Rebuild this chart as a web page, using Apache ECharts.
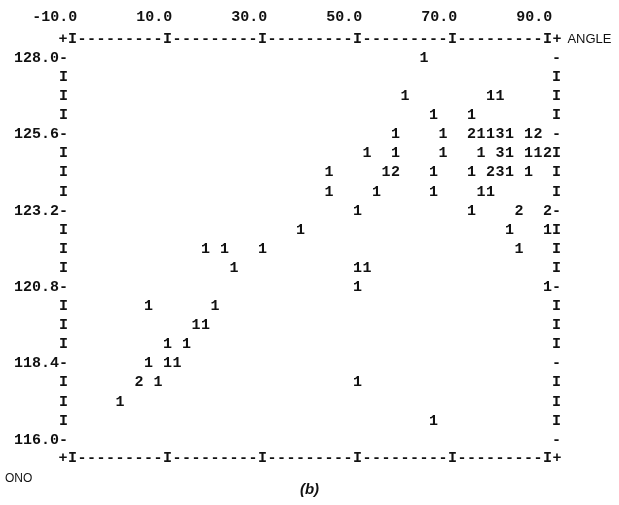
<!DOCTYPE html>
<html>
<head>
<meta charset="utf-8">
<script src="https://cdn.jsdelivr.net/npm/echarts@6.0.0/dist/echarts.min.js"></script>
<style>
  html, body { margin: 0; padding: 0; background: #fff; }
  #chart { width: 619px; height: 505px; }
</style>
</head>
<body>
<div id="chart"></div>
<script>
// printer plot: each printed digit is the number of cases in that cell
const angle = [
  64,
  60, 78, 80,
  66, 74,
  58, 68, 74, 76, 78, 80, 82, 86, 88,
  52, 58, 68, 76, 80, 82, 86, 88, 90,
  44, 56, 58, 66, 74, 78, 80, 82, 86,
  44, 54, 66, 76, 78,
  50, 74, 84, 90,
  38, 82, 90,
  18, 22, 30, 84,
  24, 50, 52,
  50, 90,
  6, 20,
  16, 18,
  10, 14,
  6, 10, 12,
  4, 8, 50,
  0,
  66
];
const ono = [
  128.0,
  126.8, 126.8, 126.8,
  126.2, 126.2,
  125.6, 125.6, 125.6, 125.6, 125.6, 125.6, 125.6, 125.6, 125.6,
  125.0, 125.0, 125.0, 125.0, 125.0, 125.0, 125.0, 125.0, 125.0,
  124.4, 124.4, 124.4, 124.4, 124.4, 124.4, 124.4, 124.4, 124.4,
  123.8, 123.8, 123.8, 123.8, 123.8,
  123.2, 123.2, 123.2, 123.2,
  122.6, 122.6, 122.6,
  122.0, 122.0, 122.0, 122.0,
  121.4, 121.4, 121.4,
  120.8, 120.8,
  120.2, 120.2,
  119.6, 119.6,
  119.0, 119.0,
  118.4, 118.4, 118.4,
  117.8, 117.8, 117.8,
  117.2,
  116.6
];
const count = [
  1,
  1, 1, 1,
  1, 1,
  1, 1, 2, 1, 1, 3, 1, 1, 2,
  1, 1, 1, 1, 3, 1, 1, 1, 2,
  1, 1, 2, 1, 1, 2, 3, 1, 1,
  1, 1, 1, 1, 1,
  1, 1, 2, 2,
  1, 1, 1,
  1, 1, 1, 1,
  1, 1, 1,
  1, 1,
  1, 1,
  1, 1,
  1, 1,
  1, 1, 1,
  2, 1, 1,
  1,
  1
];
const xTickValues = [-10, 10, 30, 50, 70, 90];
const xTickLabels = ['-10.0', '10.0', '30.0', '50.0', '70.0', '90.0'];
const yTickValues = [128.0, 125.6, 123.2, 120.8, 118.4, 116.0];
const yTickLabels = ['128.0', '125.6', '123.2', '120.8', '118.4', '116.0'];

const mono = '"Liberation Mono", "DejaVu Sans Mono", monospace';
const sans = '"Liberation Sans", Arial, sans-serif';
const ink = '#111';

// one printer column is 2 angle units, one printer line is 0.6 ono units
function col(v) { return Math.round((v + 10) / 2); }
function row(v) { return Math.round((128.0 - v) / 0.6); }

function xFrame(v) {
  const c = col(v);
  if (c === -1 || c === 51) return '+';
  if (c % 10 === 0) return 'I';
  return '-';
}
function yFrameLeft(v) {
  const r = row(v);
  if (r < 0 || r > 20) return '';
  const i = yTickValues.findIndex(t => Math.abs(t - v) < 0.01);
  return i >= 0 ? yTickLabels[i] + '-' : 'I';
}
function yFrameRight(v) {
  const r = row(v);
  if (r < 0 || r > 20) return '';
  return yTickValues.some(t => Math.abs(t - v) < 0.01) ? '-' : 'I';
}

const chart = echarts.init(document.getElementById('chart'));
const frameLabel = { fontFamily: mono, fontSize: 15, fontWeight: 'bold', color: ink, showMinLabel: true, showMaxLabel: true };

chart.setOption({
  animation: false,
  backgroundColor: '#fff',
  title: {
    text: '(b)',
    left: 'center',
    bottom: 3,
    textStyle: { fontFamily: sans, fontSize: 15, fontWeight: 'bold', fontStyle: 'italic', color: ink }
  },
  graphic: [{
    type: 'text', left: 5, top: 473,
    style: { text: 'ONO', fontFamily: sans, fontSize: 12, fill: ink }
  }],
  grid: { left: 63, right: 62, top: 39, bottom: 46, containLabel: false },
  xAxis: [
    {
      type: 'value', position: 'bottom', min: -12, max: 92, interval: 2,
      axisLine: { show: false }, axisTick: { show: false }, splitLine: { show: false },
      axisLabel: Object.assign({ margin: -8, formatter: xFrame }, frameLabel)
    },
    {
      type: 'value', position: 'top', min: -12, max: 92, interval: 2,
      axisLine: { show: false }, axisTick: { show: false }, splitLine: { show: false },
      axisLabel: Object.assign({ margin: -8, formatter: xFrame }, frameLabel),
      name: 'ANGLE', nameLocation: 'end', nameGap: 9,
      nameTextStyle: { fontFamily: sans, fontSize: 13, color: ink, align: 'left', verticalAlign: 'middle' }
    },
    {
      // tick values, printed right-aligned to the end of their column
      type: 'value', position: 'top', min: -13, max: 91, interval: 1,
      axisLine: { show: false }, axisTick: { show: false }, splitLine: { show: false },
      axisLabel: Object.assign({
        margin: 14, align: 'right',
        formatter: function (v) {
          const i = xTickValues.indexOf(Math.round(v));
          return i >= 0 ? xTickLabels[i] : '';
        }
      }, frameLabel)
    }
  ],
  yAxis: [
    {
      type: 'value', position: 'left', min: 115.4, max: 128.6, interval: 0.6,
      axisLine: { show: false }, axisTick: { show: false }, splitLine: { show: false },
      axisLabel: Object.assign({ margin: -5, formatter: yFrameLeft }, frameLabel)
    },
    {
      type: 'value', position: 'right', min: 115.4, max: 128.6, interval: 0.6,
      axisLine: { show: false }, axisTick: { show: false }, splitLine: { show: false },
      axisLabel: Object.assign({ margin: -5, formatter: yFrameRight }, frameLabel)
    }
  ],
  series: [{
    type: 'scatter',
    xAxisIndex: 0,
    yAxisIndex: 0,
    symbolSize: 1,
    itemStyle: { color: 'rgba(0,0,0,0)', opacity: 1 },
    data: angle.map((a, i) => [a, ono[i], count[i]]),
    label: {
      show: true,
      position: 'inside',
      formatter: p => String(p.value[2]),
      fontFamily: mono,
      fontSize: 15,
      fontWeight: 'bold',
      color: ink,
      opacity: 1,
      textBorderWidth: 0
    },
    emphasis: { disabled: true }
  }]
});
</script>
</body>
</html>
